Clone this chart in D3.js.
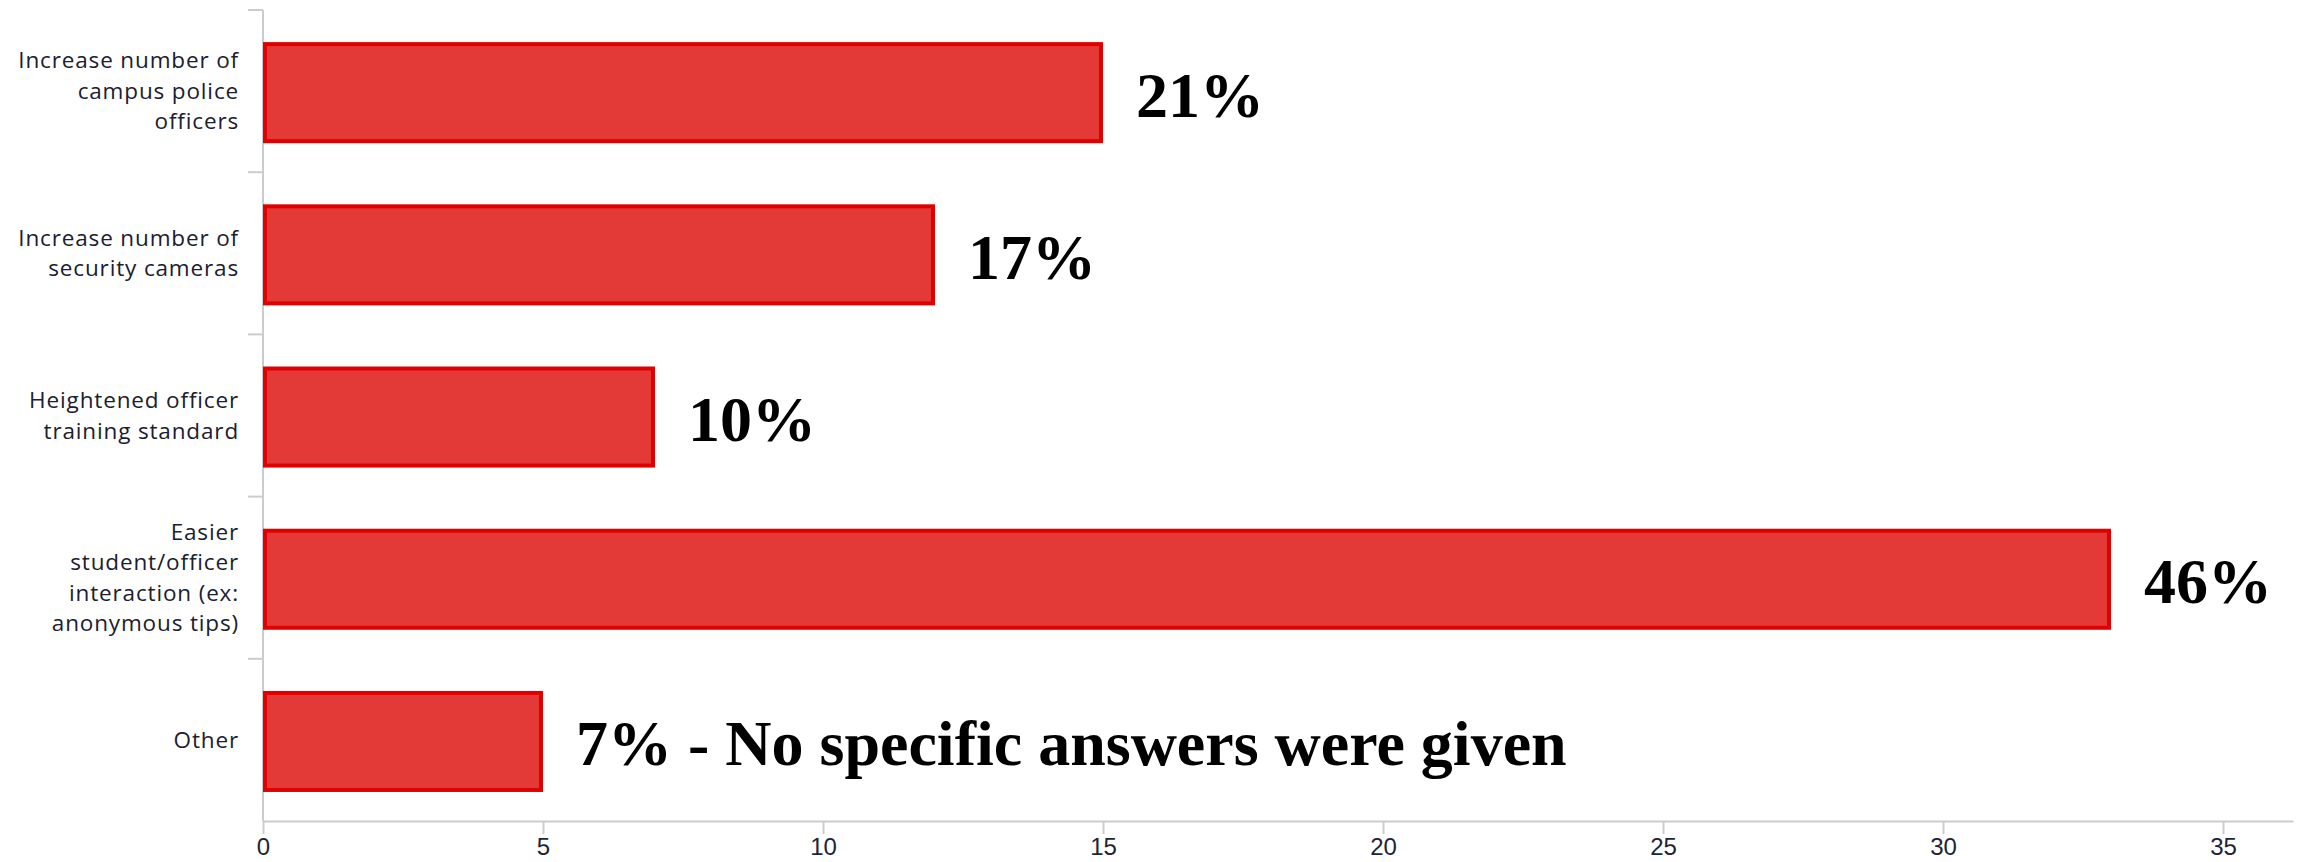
<!DOCTYPE html>
<html>
<head>
<meta charset="utf-8">
<script src="https://cdn.jsdelivr.net/npm/d3@7"></script>
<style>
  html, body { margin: 0; padding: 0; background: #ffffff; }
  svg { display: block; }
</style>
</head>
<body>
<script>
// ---- data ----
const categories = [
  "Increase number of\ncampus police\nofficers",
  "Increase number of\nsecurity cameras",
  "Heightened officer\ntraining standard",
  "Easier\nstudent/officer\ninteraction (ex:\nanonymous tips)",
  "Other"
];
const values = [15, 12, 7, 33, 5];
const valueLabels = ["21%", "17%", "10%", "46%", "7% - No specific answers were given"];
const xTicks = [0, 5, 10, 15, 20, 25, 30, 35];
const xMax = 36.25;

// ---- layout ----
const W = 2306, H = 862;
const plotLeft = 263, plotRight = 2293, plotTop = 10, plotBottom = 821;

const svg = d3.select("body").append("svg")
  .attr("width", W).attr("height", H);

const x = d3.scaleLinear().domain([0, xMax]).range([plotLeft, plotRight]);
const y = d3.scaleBand().domain(categories).range([plotTop, plotBottom]).padding(0);
const bw = y.bandwidth();

const axisColor = "#cccccc";

// y axis line
svg.append("line")
  .attr("x1", plotLeft).attr("x2", plotLeft)
  .attr("y1", plotTop).attr("y2", plotBottom)
  .attr("stroke", axisColor).attr("stroke-width", 2);

// y band boundary ticks
svg.append("g").selectAll("line")
  .data(categories)
  .join("line")
  .attr("x1", plotLeft - 15).attr("x2", plotLeft)
  .attr("y1", d => y(d)).attr("y2", d => y(d))
  .attr("stroke", axisColor).attr("stroke-width", 2);

// x axis
const xAxis = d3.axisBottom(x).tickValues(xTicks).tickSize(13).tickSizeOuter(0).tickPadding(4);
const gx = svg.append("g").attr("transform", `translate(0,${plotBottom})`).call(xAxis);
gx.select(".domain").attr("stroke", axisColor).attr("stroke-width", 2);
gx.selectAll(".tick line").attr("stroke", axisColor).attr("stroke-width", 2);
gx.selectAll(".tick text")
  .attr("font-family", "'Liberation Sans', Arial, sans-serif")
  .attr("font-size", 24)
  .attr("fill", "#1d2433");

// bars
const sw = 4;
const barTop = d => y(d) + bw * 0.198;
const barH = bw * 0.623;
svg.append("g").selectAll("rect")
  .data(categories)
  .join("rect")
  .attr("x", x(0) + sw / 2)
  .attr("y", d => barTop(d) + sw / 2)
  .attr("width", (d, i) => x(values[i]) - x(0) - sw)
  .attr("height", barH - sw)
  .attr("fill", "#e43a37")
  .attr("stroke", "#e00000")
  .attr("stroke-width", sw);

// category labels
const lineH = 30.5;
const lab = svg.append("g")
  .attr("font-family", "'Open Sans', sans-serif")
  .attr("font-size", 22.5)
  .attr("letter-spacing", 0.85)
  .attr("fill", "#1a2030")
  .attr("text-anchor", "end");
categories.forEach(c => {
  const lines = c.split("\n");
  const cy = y(c) + bw / 2;
  const t = lab.append("text");
  lines.forEach((ln, i) => {
    t.append("tspan")
      .attr("x", plotLeft - 24)
      .attr("y", cy + (i - (lines.length - 1) / 2) * lineH)
      .attr("dy", "0.35em")
      .text(ln);
  });
});

// value labels
svg.append("g").selectAll("text")
  .data(categories)
  .join("text")
  .attr("x", (d, i) => x(values[i]) + 33)
  .attr("y", d => barTop(d) + barH / 2 + 24)
  .attr("font-family", "'Liberation Serif', 'Times New Roman', serif")
  .attr("font-weight", "bold")
  .attr("font-size", 64)
  .attr("fill", "#000000")
  .text((d, i) => valueLabels[i]);
</script>
</body>
</html>
